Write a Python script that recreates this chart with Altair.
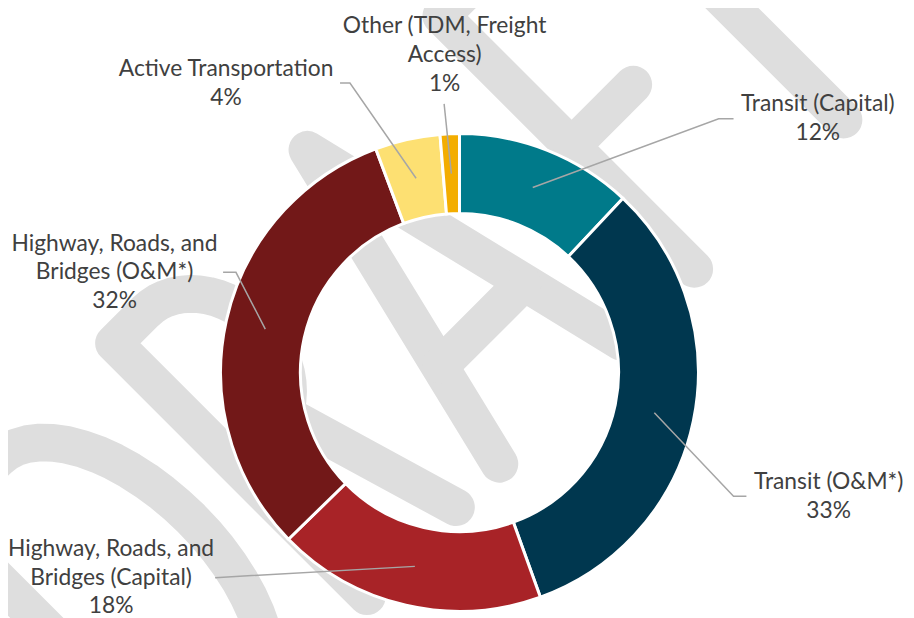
import math
import altair as alt
import pandas as pd

# ---------------- data ----------------
categories = [
    "Transit (Capital)",
    "Transit (O&M*)",
    "Highway, Roads, and Bridges (Capital)",
    "Highway, Roads, and Bridges (O&M*)",
    "Active Transportation",
    "Other (TDM, Freight Access)",
]
values = [12.0, 32.5, 18.2, 31.6, 4.4, 1.3]
pct_labels = ["12%", "33%", "18%", "32%", "4%", "1%"]
label_names = [
    "Transit (Capital)",
    "Transit (O&M*)",
    "Highway, Roads, and\nBridges (Capital)",
    "Highway, Roads, and\nBridges (O&M*)",
    "Active Transportation",
    "Other (TDM, Freight\nAccess)",
]
colors = ["#007A8A", "#00374F", "#A82327", "#721818", "#FDE072", "#F3AD00"]

# ---------------- layout ----------------
W, H = 906, 610           # drawing area (page minus 8px margin)
CX, CY = 455.5, 365.0     # donut centre
R_OUT, R_IN = 241.0, 160.5
R_LEAD = (R_OUT + R_IN) / 2
# label positions (first text line) and leader elbows / ends, in pixels
label_pos = [(817, 94), (828, 476), (104, 543), (107.5, 235), (220, 59), (440.5, 16)]
leader_elbow = [(717, 109), (732, 490), (209, 572), (230, 264), (345, 73), (440, 94)]
leader_end = [(732, 109), (745, 490), (212, 572), (217, 264), (335, 73), (440, 94)]

# ---------------- "DRAFT" watermark (decoration) ----------------
WM_ORIGIN = (505.0, 472.0)
WM_ANGLE = math.radians(45)
WM_COLOR = "#DEDEDE"
WM_WIDTH = 38


def ell(cs, ct, rs, rt, a0, a1, n=28):
    return [(cs + rs * math.cos(math.radians(a0 + (a1 - a0) * i / n)),
             ct + rt * math.sin(math.radians(a0 + (a1 - a0) * i / n))) for i in range(n + 1)]


TOP, BOT = 378, 17
wm_strokes = [
    # D
    [(-436, BOT), (-436, TOP), (-350, TOP)] + ell(-350, 197.5, 95, 180.5, 90, -90) + [(-436, BOT)],
    # R
    [(-185, BOT), (-185, TOP), (-140, TOP)] + ell(-140, 289, 72, 89, 90, -90) + [(-185, 200)],
    [(-112, 200), (-58, BOT)],
    # A
    [(4, BOT), (91, TOP), (178, BOT)],
    [(33, 129), (149, 129)],
    # F
    [(282, BOT), (282, TOP), (385, TOP)],
    [(282, 192), (370, 192)],
    # T
    [(495, BOT), (495, TOP)],
    [(405, TOP), (585, TOP)],
]
ux, uy = math.cos(WM_ANGLE), -math.sin(WM_ANGLE)
vx, vy = -math.sin(WM_ANGLE), -math.cos(WM_ANGLE)
wm_rows = []
for sid, pts in enumerate(wm_strokes):
    for k, (s, t) in enumerate(pts):
        wm_rows.append({"sid": sid, "k": k,
                        "px": WM_ORIGIN[0] + s * ux + t * vx,
                        "py": WM_ORIGIN[1] + s * uy + t * vy})
df_wm = pd.DataFrame(wm_rows)

# ---------------- tables ----------------
total = sum(values)
rows, line_rows = [], []
cum = 0.0
for i, (c, v) in enumerate(zip(categories, values)):
    mid = (cum + v / 2) / total * 2 * math.pi
    cum += v
    sx = CX + R_LEAD * math.sin(mid)
    sy = CY - R_LEAD * math.cos(mid)
    rows.append({
        "idx": i, "category": c, "value": v,
        "text": label_names[i] + "\n" + pct_labels[i],
        "lx": label_pos[i][0], "ly": label_pos[i][1],
    })
    for k, (px, py) in enumerate([(sx, sy), leader_elbow[i], leader_end[i]]):
        line_rows.append({"category": c, "k": k, "px": px, "py": py})

df = pd.DataFrame(rows)
df_lines = pd.DataFrame(line_rows)

xs = alt.Scale(domain=[0, W], nice=False, zero=False)
ys = alt.Scale(domain=[0, H], nice=False, zero=False, reverse=True)

watermark = alt.Chart(df_wm).mark_line(
    color=WM_COLOR, strokeWidth=WM_WIDTH, strokeCap="round", strokeJoin="round"
).encode(
    x=alt.X("px:Q", scale=xs, axis=None),
    y=alt.Y("py:Q", scale=ys, axis=None),
    detail="sid:N",
    order="k:Q",
)

arcs = alt.Chart(df).mark_arc(
    outerRadius=R_OUT, innerRadius=R_IN, stroke="white", strokeWidth=3
).encode(
    theta=alt.Theta("value:Q", stack=True),
    order=alt.Order("idx:Q"),
    color=alt.Color("category:N", scale=alt.Scale(domain=categories, range=colors), legend=None),
    x=alt.value(CX), y=alt.value(CY),
)

leaders = alt.Chart(df_lines).mark_line(color="#A6A6A6", strokeWidth=1.5).encode(
    x=alt.X("px:Q", scale=xs, axis=None),
    y=alt.Y("py:Q", scale=ys, axis=None),
    detail="category:N",
    order="k:Q",
)

labels = alt.Chart(df).mark_text(
    font="Lato", fontSize=23, color="#404040", lineBreak="\n", lineHeight=29,
    align="center", baseline="middle",
).encode(
    x=alt.X("lx:Q", scale=xs, axis=None),
    y=alt.Y("ly:Q", scale=ys, axis=None),
    text="text:N",
)

chart = alt.layer(watermark, arcs, leaders, labels).properties(
    width=W, height=H, padding=0, autosize=alt.AutoSizeParams(type="none")
).configure_view(stroke=None)

chart.save("out.html", embed_options={"renderer": "svg", "actions": False})
